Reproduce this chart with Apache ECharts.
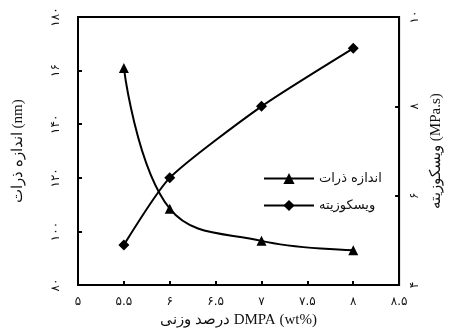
<!DOCTYPE html>
<html><head><meta charset="utf-8">
<script src="https://cdn.jsdelivr.net/npm/echarts@6/dist/echarts.min.js"></script>
<style>html,body{margin:0;padding:0;background:#fff}#c{width:452px;height:333px}</style>
</head><body><div id="c"></div>
<script>
var dmpa = [5.5, 6, 7, 8];
var particleSize = [161, 108.5, 96.5, 93];
var viscosity = [4.9, 6.4, 8.0, 9.3];
var xTickLabels = {'5':'۵','5.5':'۵.۵','6':'۶','6.5':'۶.۵','7':'۷','7.5':'۷.۵','8':'۸','8.5':'۸.۵'};
var leftTickLabels = {'80':'۸۰','100':'۱۰۰','120':'۱۲۰','140':'۱۴۰','160':'۱۶','180':'۱۸۰'};
var rightTickLabels = {'4':'۴','6':'۶','8':'۸','10':'۱۰'};
var nameSize = 'اندازه ذرات';
var nameVisc = 'ویسکوزیته';

var chart = echarts.init(document.getElementById('c'));
var axisLine = {show:true, lineStyle:{color:'#000', width:2}};
var tick = {show:true, inside:true, length:4, lineStyle:{color:'#000', width:2}};
var lbl = {color:'#111', fontSize:12, fontFamily:'DejaVu Sans'};
chart.setOption({
  animation:false,
  grid:{left:78, right:51, top:17, bottom:40, show:true, borderColor:'#000', borderWidth:2},
  legend:{
    orient:'vertical', left:258, top:167, itemWidth:50, itemHeight:14, itemGap:14,
    textStyle:{color:'#111', fontSize:13, fontFamily:'DejaVu Sans'},
    data:[nameSize, nameVisc]
  },
  xAxis:{
    type:'value', min:5, max:8.5, interval:0.5,
    axisLine:axisLine, axisTick:tick, splitLine:{show:false},
    axisLabel:Object.assign({margin:11, formatter:function(v){return xTickLabels[String(v)]||'';}}, lbl),
    name:'درصد وزنی DMPA (wt%)', nameLocation:'middle', nameGap:25,
    nameTextStyle:{color:'#111', fontSize:15, fontFamily:'Liberation Serif'}
  },
  yAxis:[{
    type:'value', min:80, max:180, interval:20,
    axisLine:axisLine, axisTick:tick, splitLine:{show:false},
    axisLabel:Object.assign({rotate:90, margin:16, formatter:function(v){return leftTickLabels[String(v)]||'';}}, lbl),
    name:'اندازه ذرات (nm)', nameLocation:'middle', nameRotate:90, nameGap:52,
    nameTextStyle:{color:'#111', fontSize:15, fontFamily:'Liberation Serif'}
  },{
    type:'value', min:4, max:10, interval:2, position:'right',
    axisLine:axisLine, axisTick:tick, splitLine:{show:false},
    axisLabel:Object.assign({rotate:90, margin:10, formatter:function(v){return rightTickLabels[String(v)]||'';}}, lbl),
    name:'ویسکوزیته (MPa.s)', nameLocation:'middle', nameRotate:90, nameGap:28,
    nameTextStyle:{color:'#111', fontSize:15, fontFamily:'Liberation Serif'}
  }],
  series:[{
    name:nameSize, type:'line', yAxisIndex:0, smooth:0.4,
    data:dmpa.map(function(x,i){return [x, particleSize[i]];}),
    symbol:'triangle', symbolSize:10,
    lineStyle:{color:'#000', width:2}, itemStyle:{color:'#000'}
  },{
    name:nameVisc, type:'line', yAxisIndex:1, smooth:0.2,
    data:dmpa.map(function(x,i){return [x, viscosity[i]];}),
    symbol:'diamond', symbolSize:11,
    lineStyle:{color:'#000', width:2}, itemStyle:{color:'#000'}
  }]
});
</script></body></html>
